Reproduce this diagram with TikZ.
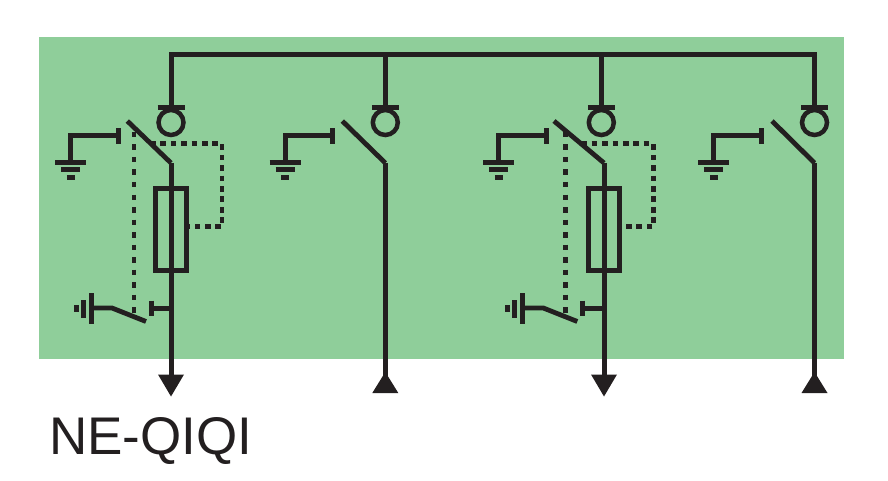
\documentclass[tikz,border=0pt]{standalone}
\usepackage{fontspec}
\setmainfont{Liberation Sans}
\definecolor{panel}{RGB}{143,206,154}
\definecolor{ink}{RGB}{35,31,32}
\tikzset{
  % ----- lines
  wire/.style = {draw=ink, line width=5pt},
  blade/.style = {draw=ink, line width=4.8pt},
  linkh/.style = {draw=ink, line width=4.5pt, dash pattern=on 5.6pt off 4.8pt},
  linkv/.style = {draw=ink, line width=4.5pt, dash pattern=on 5.5pt off 7pt},
  % ----- nodes
  coil/.style = {circle, draw=ink, line width=4.5pt, minimum size=25pt, inner sep=0pt, outer sep=0pt},
  fuse/.style = {rectangle, draw=ink, line width=5pt, minimum width=31.5pt, minimum height=81pt, inner sep=0pt, outer sep=0pt},
  label/.style = {anchor=base west, inner sep=0pt, text=ink, font=\fontsize{53}{53}\selectfont}
}

\begin{document}
\begin{tikzpicture}[x=1pt, y=-1pt]
        \useasboundingbox (0,0) rectangle (888,481);
        \fill[panel] (39,37) rectangle (844,359);

        % busbar
        \coordinate (B1) at (171,55);
        \coordinate (B4) at (814.5,55);
        \draw[wire, line cap=rect] (B1) -- (B4);

        % every feeder: \x coil, \w lower wire, \g earth, \a blade start
        \foreach \n/\x/\w/\g/\a in {1/171/171/70.7/127.3, 2/385.3/385.3/285/342.3, 3/601.3/604/498.7/554, 4/814.5/814.5/713.7/772}{
            \coordinate (T\n) at (\x,55);
            \coordinate (P\n) at (\x,108);
            \coordinate (PL\n) at (\x-13.5,108);
            \coordinate (PR\n) at (\x+13.5,108);
            \node[coil] (C\n) at (\x,122.5) {};
            \path[wire] (T\n) edge (P\n);
            \path[wire] (PL\n) edge (PR\n);

            % switch
            \coordinate (SA\n) at (\a,121);
            \coordinate (SB\n) at (\w,163);
            \coordinate (END\n) at (\w,378);
            \path[blade] (SA\n) edge (SB\n);
            \path[wire] (SB\n) edge (END\n);

            % contact to earth
            \coordinate (G\n) at (\g,162.5);
            \coordinate (GC\n) at (\g+47.8,136);
            \coordinate (GT\n) at (\g+47.8,128.5);
            \coordinate (GB\n) at (\g+47.8,144);
            \draw[wire] (G\n) |- (GC\n);
            \path[wire] (GT\n) edge (GB\n);
            \draw[wire] (\g-15.5,162.5) -- (\g+15.5,162.5);
            \draw[wire] (\g-9.5,170) -- (\g+9.5,170);
            \draw[wire] (\g-3.8,177.5) -- (\g+3.8,177.5);
        }

        % columns with a fuse and a lower earthing switch, \d is the shift
        \foreach \n/\w/\d in {1/171/0, 3/604/431.3}{
            \node[fuse] (F\n) at (\w+0.2,229.5) {};
            \path[wire] (F\n.north) edge (F\n.south);

            \coordinate (LA\n) at (\d+150,143.7);
            \coordinate (LB\n) at (\d+222,143.7);
            \coordinate (LC\n) at (\d+222,226.7);
            \draw[linkh] (LA\n) -- (LB\n) -- (LC\n) -- (F\n.east |- LC\n);

            \coordinate (E\n) at (\d+91,308);
            \coordinate (EK\n) at (\d+112,308);
            \coordinate (EB\n) at (\d+146,321.5);
            \coordinate (D\n) at (\d+134,132);
            \coordinate (DE\n) at (\d+134,314);
            \draw[linkv] (D\n) -- (DE\n);
            \draw[blade] (E\n) -- (EK\n) -- (EB\n);

            \draw[wire] (\d+91,293) -- (\d+91,324);
            \draw[wire] (\d+83.5,300) -- (\d+83.5,318);
            \draw[wire] (\d+76,305) -- (\d+76,312);

            \coordinate (K\n) at (\d+151,308);
            \draw[wire] (K\n) -- (\w,308);
            \draw[wire] (\d+151,300.5) -- (\d+151,316);

            % outgoing arrow
            \fill[ink] (\w-13,374.5) -- (\w+13,374.5) -- (\w,396.5) -- cycle;
        }

        % columns with an incoming arrow
        \foreach \n/\w in {2/385.3, 4/814.5}{
            \fill[ink] (\w-13,393) -- (\w+13,393) -- (\w,372) -- cycle;
        }

        \node[label] (name) at (49,454) {NE-QIQI};
\end{tikzpicture}
\end{document}
